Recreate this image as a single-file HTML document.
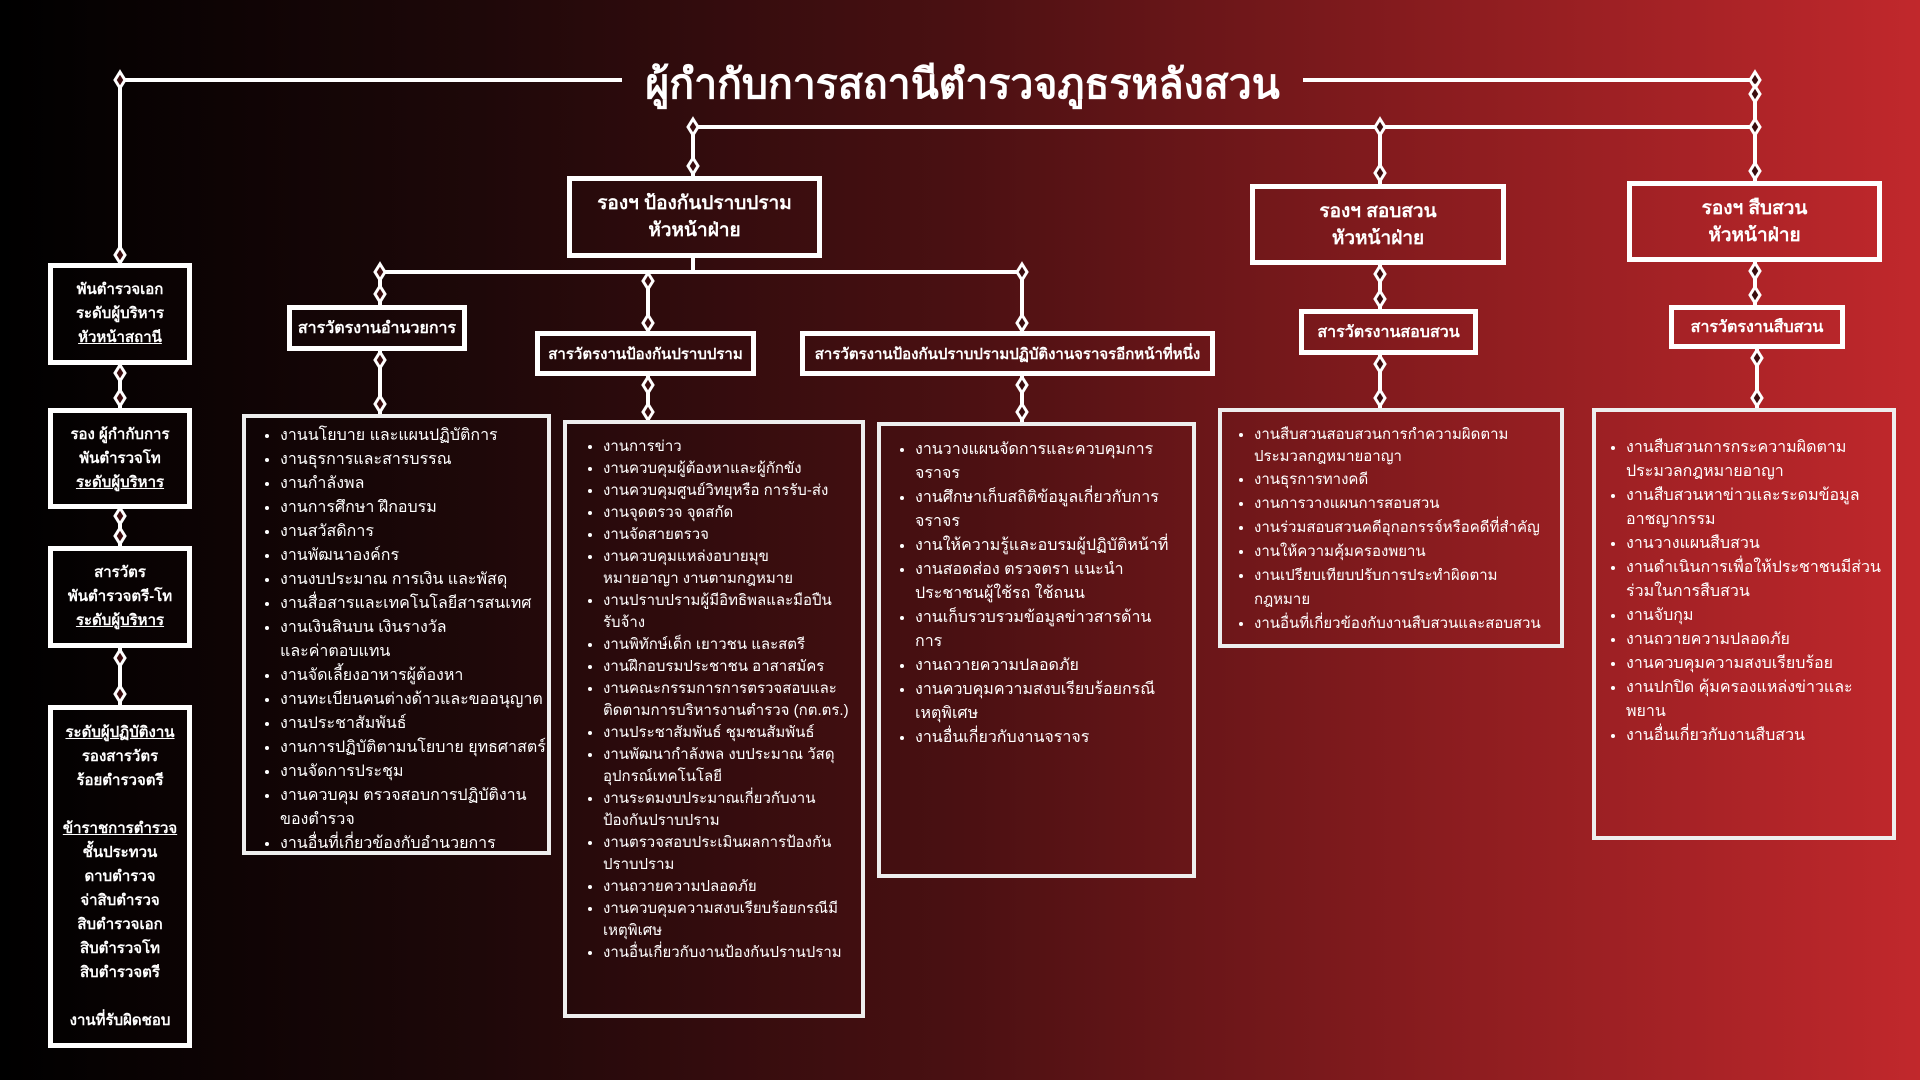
<!DOCTYPE html>
<html><head><meta charset="utf-8"><style>
*{margin:0;padding:0;box-sizing:border-box}
body{width:1920px;height:1080px;overflow:hidden;position:relative;
background:linear-gradient(90deg,#000 0%,#1e0809 25%,#4a1012 50%,#8a1c1f 75%,#c1282c 100%);
font-family:"Liberation Sans","DejaVu Sans","Noto Sans CJK SC",sans-serif;color:#fff}
.b{position:absolute;border:5px solid #fff;display:flex;align-items:center;justify-content:center;text-align:center;font-weight:bold}
.l{position:absolute;border:4px solid #eee;}
.l ul{padding-left:34px}
.l li{line-height:24px}
svg{position:absolute;left:0;top:0}
.t{position:absolute;left:627px;width:671px;top:52px;text-align:center;font-size:41px;font-weight:bold;white-space:nowrap}
.left{font-size:15px;line-height:24px}
u{text-decoration:underline}
.m li{line-height:22px}
</style></head><body>
<svg width="1920" height="1080" fill="none" stroke="#fff" stroke-width="4">
<path d="M120 80H622M1303 80H1755M120 80V263M120 365V408M120 509V546M120 648V705M1755 80V127M693 127H1755M693 127V176M1380 127V184M1755 127V181M693 258V272M380 272H1022M380 272V305M648 272V331M1022 272V331M380 351V414M648 376V420M1022 376V422M1380 265V309M1380 355V408M1755 262V305M1757 349V408"/>
</svg>
<svg width="1920" height="1080" stroke="#fff" stroke-width="3" fill="#3a0c0e">
<defs><polygon id="d" points="0,-8 5,0 0,8 -5,0"/></defs>
<use href="#d" x="120" y="80"/><use href="#d" x="120" y="255"/>
<use href="#d" x="120" y="373"/><use href="#d" x="120" y="398"/>
<use href="#d" x="120" y="516"/><use href="#d" x="120" y="536"/>
<use href="#d" x="120" y="658"/><use href="#d" x="120" y="694"/>
<use href="#d" x="1755" y="80"/><use href="#d" x="1755" y="94"/>
<use href="#d" x="693" y="127"/><use href="#d" x="1380" y="127"/><use href="#d" x="1755" y="127"/>
<use href="#d" x="693" y="166"/><use href="#d" x="1380" y="173"/><use href="#d" x="1755" y="171"/>
<use href="#d" x="380" y="272"/><use href="#d" x="380" y="294"/>
<use href="#d" x="648" y="281"/><use href="#d" x="648" y="323"/>
<use href="#d" x="1022" y="272"/><use href="#d" x="1022" y="323"/>
<use href="#d" x="380" y="360"/><use href="#d" x="380" y="404"/>
<use href="#d" x="648" y="385"/><use href="#d" x="648" y="412"/>
<use href="#d" x="1022" y="385"/><use href="#d" x="1022" y="412"/>
<use href="#d" x="1380" y="274"/><use href="#d" x="1380" y="299"/>
<use href="#d" x="1380" y="364"/><use href="#d" x="1380" y="398"/>
<use href="#d" x="1755" y="271"/><use href="#d" x="1755" y="295"/>
<use href="#d" x="1757" y="358"/><use href="#d" x="1757" y="398"/>
</svg>
<div class="t">ผู้กำกับการสถานีตำรวจภูธรหลังสวน</div>

<div class="b left" style="left:48px;top:263px;width:144px;height:102px"><div>พันตำรวจเอก<br>ระดับผู้บริหาร<br><u>หัวหน้าสถานี</u></div></div>
<div class="b left" style="left:48px;top:408px;width:144px;height:101px"><div>รอง ผู้กำกับการ<br>พันตำรวจโท<br><u>ระดับผู้บริหาร</u></div></div>
<div class="b left" style="left:48px;top:546px;width:144px;height:102px"><div>สารวัตร<br>พันตำรวจตรี-โท<br><u>ระดับผู้บริหาร</u></div></div>
<div class="b left" style="left:48px;top:705px;width:144px;height:343px"><div><u>ระดับผู้ปฏิบัติงาน</u><br>รองสารวัตร<br>ร้อยตำรวจตรี<br><br><u>ข้าราชการตำรวจ</u><br>ชั้นประทวน<br>ดาบตำรวจ<br>จ่าสิบตำรวจ<br>สิบตำรวจเอก<br>สิบตำรวจโท<br>สิบตำรวจตรี<br><br>งานที่รับผิดชอบ</div></div>

<div class="b" style="left:567px;top:176px;width:255px;height:82px;font-size:19px;line-height:27px"><div>รองฯ ป้องกันปราบปราม<br>หัวหน้าฝ่าย</div></div>
<div class="b" style="left:1250px;top:184px;width:256px;height:81px;font-size:19px;line-height:27px"><div>รองฯ สอบสวน<br>หัวหน้าฝ่าย</div></div>
<div class="b" style="left:1627px;top:181px;width:255px;height:81px;font-size:19px;line-height:27px"><div>รองฯ สืบสวน<br>หัวหน้าฝ่าย</div></div>

<div class="b" style="left:287px;top:305px;width:180px;height:46px;font-size:16px">สารวัตรงานอำนวยการ</div>
<div class="b" style="left:535px;top:331px;width:221px;height:45px;font-size:15px">สารวัตรงานป้องกันปราบปราม</div>
<div class="b" style="left:800px;top:331px;width:415px;height:45px;font-size:15px">สารวัตรงานป้องกันปราบปรามปฏิบัติงานจราจรอีกหน้าที่หนึ่ง</div>
<div class="b" style="left:1299px;top:309px;width:179px;height:46px;font-size:16px">สารวัตรงานสอบสวน</div>
<div class="b" style="left:1669px;top:305px;width:176px;height:44px;font-size:16px">สารวัตรงานสืบสวน</div>

<div class="l" style="left:242px;top:414px;width:309px;height:441px;padding-top:6px;font-size:16px"><ul>
<li>งานนโยบาย และแผนปฏิบัติการ</li><li>งานธุรการและสารบรรณ</li><li>งานกำลังพล</li><li>งานการศึกษา ฝึกอบรม</li><li>งานสวัสดิการ</li><li>งานพัฒนาองค์กร</li><li>งานงบประมาณ การเงิน และพัสดุ</li><li>งานสื่อสารและเทคโนโลยีสารสนเทศ</li><li>งานเงินสินบน เงินรางวัล<br>และค่าตอบแทน</li><li>งานจัดเลี้ยงอาหารผู้ต้องหา</li><li>งานทะเบียนคนต่างด้าวและขออนุญาต</li><li>งานประชาสัมพันธ์</li><li>งานการปฏิบัติตามนโยบาย ยุทธศาสตร์</li><li>งานจัดการประชุม</li><li>งานควบคุม ตรวจสอบการปฏิบัติงาน<br>ของตำรวจ</li><li>งานอื่นที่เกี่ยวข้องกับอำนวยการ</li></ul></div>

<div class="l m" style="left:563px;top:420px;width:302px;height:598px;padding:12px 10px 0 0;font-size:15px"><ul style="padding-left:36px">
<li>งานการข่าว</li><li>งานควบคุมผู้ต้องหาและผู้กักขัง</li><li>งานควบคุมศูนย์วิทยุหรือ การรับ-ส่ง</li><li>งานจุดตรวจ จุดสกัด</li><li>งานจัดสายตรวจ</li><li>งานควบคุมแหล่งอบายมุข<br>หมายอาญา งานตามกฎหมาย</li><li>งานปราบปรามผู้มีอิทธิพลและมือปืนรับจ้าง</li><li>งานพิทักษ์เด็ก เยาวชน และสตรี</li><li>งานฝึกอบรมประชาชน อาสาสมัคร</li><li>งานคณะกรรมการการตรวจสอบและติดตามการบริหารงานตำรวจ (กต.ตร.)</li><li>งานประชาสัมพันธ์ ชุมชนสัมพันธ์</li><li>งานพัฒนากำลังพล งบประมาณ วัสดุ อุปกรณ์เทคโนโลยี</li><li>งานระดมงบประมาณเกี่ยวกับงานป้องกันปราบปราม</li><li>งานตรวจสอบประเมินผลการป้องกันปราบปราม</li><li>งานถวายความปลอดภัย</li><li>งานควบคุมความสงบเรียบร้อยกรณีมีเหตุพิเศษ</li><li>งานอื่นเกี่ยวกับงานป้องกันปรานปราม</li></ul></div>

<div class="l" style="left:877px;top:422px;width:319px;height:456px;padding:12px 14px 0 0;font-size:16px"><ul>
<li>งานวางแผนจัดการและควบคุมการจราจร</li><li>งานศึกษาเก็บสถิติข้อมูลเกี่ยวกับการจราจร</li><li>งานให้ความรู้และอบรมผู้ปฏิบัติหน้าที่</li><li>งานสอดส่อง ตรวจตรา แนะนำประชาชนผู้ใช้รถ ใช้ถนน</li><li>งานเก็บรวบรวมข้อมูลข่าวสารด้านการ</li><li>งานถวายความปลอดภัย</li><li>งานควบคุมความสงบเรียบร้อยกรณีเหตุพิเศษ</li><li>งานอื่นเกี่ยวกับงานจราจร</li></ul></div>

<div class="l" style="left:1218px;top:408px;width:346px;height:240px;padding:12px 8px 0 0;font-size:15px"><ul style="padding-left:32px">
<li style="line-height:22px">งานสืบสวนสอบสวนการกำความผิดตามประมวลกฎหมายอาญา</li><li>งานธุรการทางคดี</li><li>งานการวางแผนการสอบสวน</li><li>งานร่วมสอบสวนคดีอุกอกรรจ์หรือคดีที่สำคัญ</li><li>งานให้ความคุ้มครองพยาน</li><li>งานเปรียบเทียบปรับการประทำผิดตามกฎหมาย</li><li>งานอื่นที่เกี่ยวข้องกับงานสืบสวนและสอบสวน</li></ul></div>

<div class="l" style="left:1592px;top:408px;width:304px;height:432px;padding:24px 6px 0 0;font-size:16px"><ul style="padding-left:30px">
<li>งานสืบสวนการกระความผิดตามประมวลกฎหมายอาญา</li><li>งานสืบสวนหาข่าวและระดมข้อมูลอาชญากรรม</li><li>งานวางแผนสืบสวน</li><li>งานดำเนินการเพื่อให้ประชาชนมีส่วนร่วมในการสืบสวน</li><li>งานจับกุม</li><li>งานถวายความปลอดภัย</li><li>งานควบคุมความสงบเรียบร้อย</li><li>งานปกปิด คุ้มครองแหล่งข่าวและพยาน</li><li>งานอื่นเกี่ยวกับงานสืบสวน</li></ul></div>
</body></html>
